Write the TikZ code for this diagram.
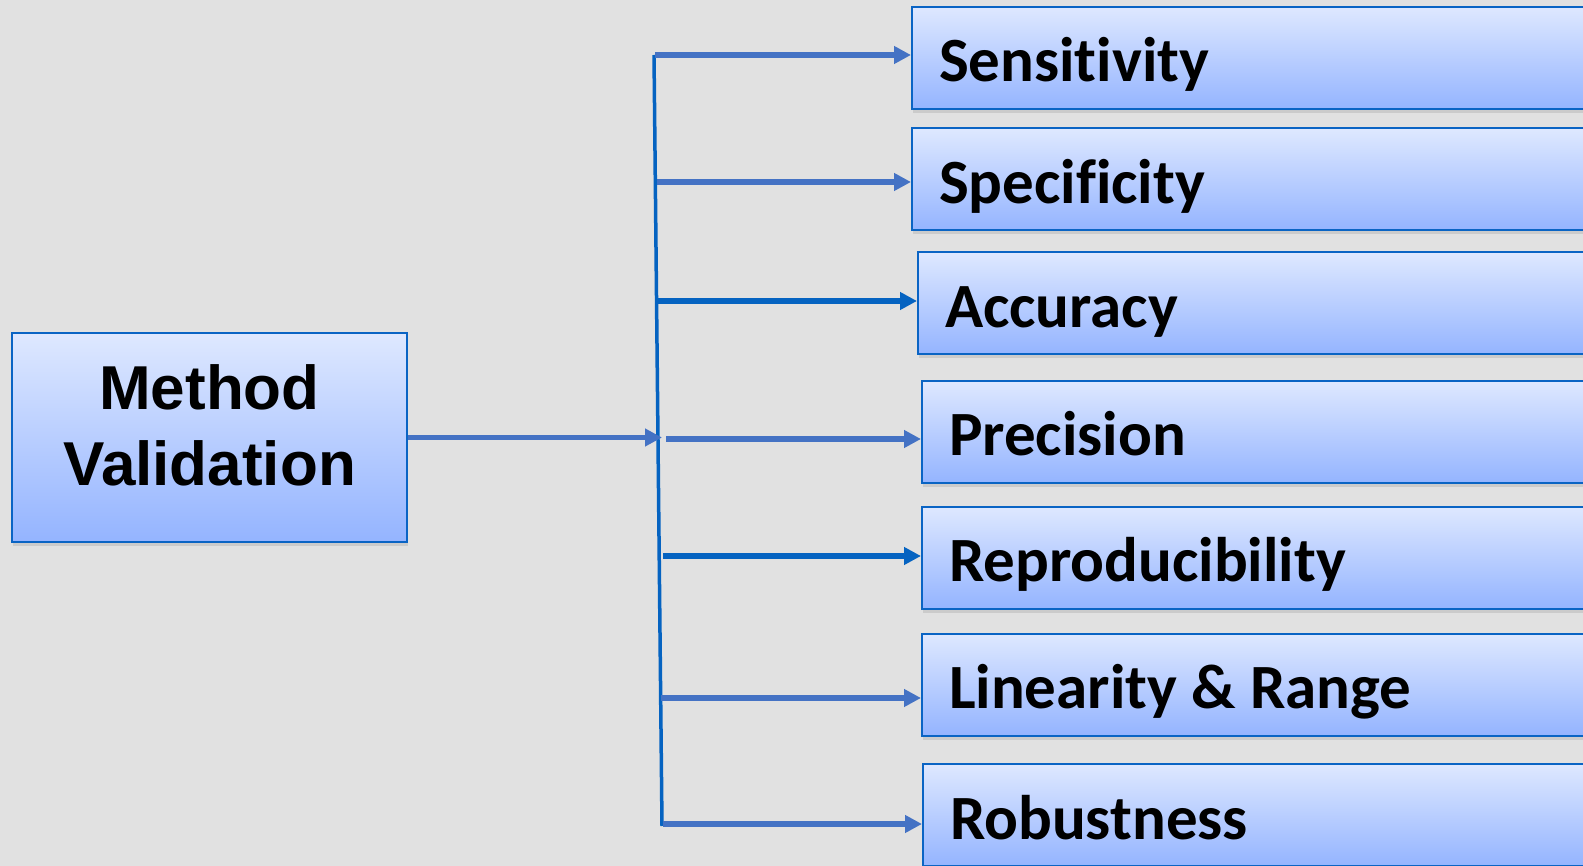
\documentclass[tikz,border=0pt]{standalone}
\usepackage{fontspec}
\setmainfont{Carlito}[Ligatures=NoCommon]
\newfontfamily\arialfont{Liberation Sans}
\usetikzlibrary{arrows.meta,shadows,calc}
\definecolor{cBack}{HTML}{E1E1E1}
\definecolor{cEdge}{HTML}{0A64C4}
\definecolor{cTop}{HTML}{DEE8FF}
\definecolor{cBot}{HTML}{94B4FF}
\definecolor{cArr}{HTML}{4472C4}
\definecolor{cTrunk}{HTML}{0563C1}
\tikzset{
  box/.style     = {draw=cEdge, line width=2pt, top color=cTop, bottom color=cBot,
                    drop shadow={shadow xshift=1pt, shadow yshift=-4pt, opacity=.22}},
  item/.style    = {box, anchor=west, minimum height=102pt, text width=680pt,
                    inner xsep=27pt, inner ysep=0pt, align=flush left,
                    text height=48pt, text depth=0pt,
                    font=\fontsize{63pt}{76pt}\selectfont\bfseries},
  mainbox/.style = {box, minimum width=395pt, minimum height=209pt, inner sep=0pt},
  mainlbl/.style = {align=center, inner sep=0pt,
                    font=\arialfont\fontsize{62pt}{76pt}\selectfont\bfseries},
  flow/.style    = {-{Triangle[length=17pt, width=17pt]}, line width=5.5pt, draw=cArr},
  trunk/.style   = {line width=3.5pt, draw=cTrunk},
}
\begin{document}
\begin{tikzpicture}[x=1pt, y=-1pt]
  % page
  \fill[cBack] (0,0) rectangle (1583,866);
  \useasboundingbox (0,0) rectangle (1583,866);
  \clip (0,0) rectangle (1583,866);
  % source box
  \node[mainbox] (mv) at (209.5,437.5) {};
  \node[mainlbl] (mvl) at ([yshift=12.5pt]mv.center) {Method\\Validation};
  % trunk
  \coordinate (ttop) at (654,55);
  \coordinate (tbot) at (662,826);
  \coordinate (hub)  at (662,437.5);
  \draw[trunk] (ttop) -- (tbot);
  \draw[flow] (mv.east) -- (mv.east -| hub);
  % criteria
  \foreach \nm/\xx/\yy/\txt in {sens/911/58/Sensitivity, spec/911/179.5/Specificity,
      acc/917/303.5/Accuracy, prec/921/432/Precision, repro/921/557.5/Reproducibility,
      lin/921/684.5/Linearity \& Range, rob/922/815/Robustness}
    \node[item] (\nm) at (\xx,\yy) {\txt};
  % branches
  \foreach \nm/\sx/\ay/\col in {sens/655/55/cArr, spec/657/182/cArr, acc/656/301/cTrunk,
      prec/666/439/cArr, repro/663/556/cTrunk, lin/661/698/cArr, rob/663/824/cArr} {
    \coordinate (\nm-s) at (\sx,\ay);
    \draw[flow, draw=\col] (\nm-s) -- (\nm-s -| \nm.west);
  }
\end{tikzpicture}
\end{document}
